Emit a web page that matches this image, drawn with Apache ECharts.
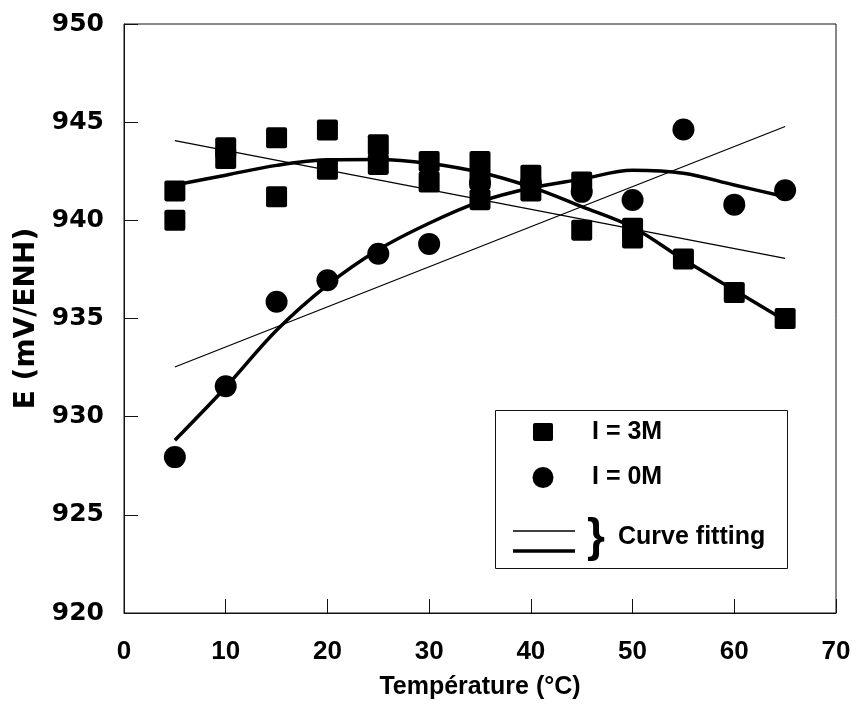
<!DOCTYPE html>
<html>
<head>
<meta charset="utf-8">
<title>E vs Température</title>
<script src="https://cdn.jsdelivr.net/npm/echarts@6/dist/echarts.min.js"></script>
<style>
  html, body { margin: 0; padding: 0; background: #fff; }
  #chart { width: 859px; height: 715px; }
</style>
</head>
<body>
<div id="chart"></div>
<script>
// Axis ranges and titles
const xRange = [0, 70, 10];
const yRange = [920, 950, 5];
const xTitle = 'Température (°C)';
const yTitle = 'E (mV/ENH)';

// Measured potentials, I = 3M  [T (°C), E (mV/ENH)]
const points3M = [
  [5, 941.5], [5, 940.0],
  [10, 943.7], [10, 943.15],
  [15, 944.2], [15, 941.2],
  [20, 944.6], [20, 942.6],
  [25, 943.85], [25, 942.85],
  [30, 943.0], [30, 941.95],
  [35, 943.0], [35, 942.1], [35, 941.05],
  [40, 942.3], [40, 941.5],
  [45, 941.95], [45, 939.5],
  [50, 939.6], [50, 939.1],
  [55, 938.03],
  [60, 936.32],
  [65, 935.0]
];

// Measured potentials, I = 0M
const points0M = [
  [5, 927.94], [10, 931.55], [15, 935.85], [20, 936.95], [25, 938.3],
  [30, 938.8], [35, 941.9], [40, 941.9], [45, 941.45], [50, 941.04],
  [55, 944.63], [60, 940.8], [65, 941.53]
];

// Fitted curves
const linear3M = [[5, 944.06], [65, 938.06]];
const linear0M = [[5, 932.53], [65, 944.78]];
const poly3M = [
  [5, 941.8], [10, 942.3], [15, 942.8], [20, 943.08], [25, 943.1],
  [30, 942.9], [35, 942.45], [40, 941.7], [45, 940.7], [50, 939.65],
  [55, 938.0], [60, 936.45], [65, 934.9]
];
const poly0M = [
  [5, 928.8], [10, 931.5], [15, 934.4], [20, 936.7], [25, 938.5],
  [30, 939.85], [35, 940.95], [40, 941.65], [45, 942.1], [50, 942.55],
  [55, 942.4], [60, 941.8], [65, 941.2]
];

// Legend texts
const legend3M = 'I = 3M';
const legend0M = 'I = 0M';
const legendFit = 'Curve fitting';

const ink = '#000';
const sansNarrow = '"Liberation Sans", Arial, sans-serif';
const sansWide = '"DejaVu Sans", sans-serif';

const chart = echarts.init(document.getElementById('chart'), null, { renderer: 'canvas' });

const thin = { color: ink, width: 1.3 };
const thick = { color: ink, width: 3.5 };

chart.setOption({
  backgroundColor: '#fff',
  animation: false,
  grid: {
    left: 124, right: 23, top: 24, bottom: 102,
    show: true, borderColor: '#111', borderWidth: 1
  },
  xAxis: {
    type: 'value',
    min: xRange[0], max: xRange[1], interval: xRange[2],
    axisLine: { show: true, lineStyle: { color: '#111', width: 1 } },
    axisTick: { show: true, inside: true, length: 14, lineStyle: { color: '#111', width: 1 } },
    splitLine: { show: false },
    axisLabel: {
      color: ink, fontFamily: sansNarrow, fontWeight: 'bold', fontSize: 26, margin: 26
    },
    name: xTitle,
    nameLocation: 'middle',
    nameGap: 62,
    nameTextStyle: { color: ink, fontFamily: sansNarrow, fontWeight: 'bold', fontSize: 25 }
  },
  yAxis: {
    type: 'value',
    min: yRange[0], max: yRange[1], interval: yRange[2],
    axisLine: { show: true, lineStyle: { color: '#111', width: 1 } },
    axisTick: { show: true, inside: true, length: 14, lineStyle: { color: '#111', width: 1 } },
    splitLine: { show: false },
    axisLabel: {
      color: ink, fontFamily: sansWide, fontWeight: 'bold', fontSize: 25, margin: 20
    },
    name: yTitle,
    nameLocation: 'middle',
    nameRotate: 90,
    nameGap: 81,
    nameTextStyle: { color: ink, fontFamily: sansWide, fontWeight: 'bold', fontSize: 28 }
  },
  series: [
    { type: 'line', data: linear3M, showSymbol: false, lineStyle: thin, z: 2 },
    { type: 'line', data: linear0M, showSymbol: false, lineStyle: thin, z: 2 },
    { type: 'line', data: poly3M, smooth: 0.35, showSymbol: false, lineStyle: thick, z: 3 },
    { type: 'line', data: poly0M, smooth: 0.35, showSymbol: false, lineStyle: thick, z: 3 },
    {
      name: legend0M, type: 'scatter', data: points0M,
      symbol: 'circle', symbolSize: 22, itemStyle: { color: ink, opacity: 1 }, z: 4
    },
    {
      name: legend3M, type: 'scatter', data: points3M,
      symbol: 'path://M2,0 L18,0 Q20,0 20,2 L20,18 Q20,20 18,20 L2,20 Q0,20 0,18 L0,2 Q0,0 2,0 Z',
      symbolSize: 21, itemStyle: { color: ink, opacity: 1 }, z: 5
    }
  ],
  graphic: [
    {
      type: 'rect', shape: { x: 495.5, y: 410.5, width: 292, height: 158 },
      style: { fill: '#fff', stroke: '#111', lineWidth: 1 }, z: 10
    },
    {
      type: 'rect', shape: { x: 533, y: 423, width: 20, height: 18, r: 2 },
      style: { fill: ink }, z: 11
    },
    {
      type: 'circle', shape: { cx: 543, cy: 477.5, r: 10.5 },
      style: { fill: ink }, z: 11
    },
    {
      type: 'text', x: 592, y: 432, z: 11,
      style: { text: legend3M, fill: ink, font: 'bold 25px ' + sansNarrow, verticalAlign: 'middle' }
    },
    {
      type: 'text', x: 592, y: 477, z: 11,
      style: { text: legend0M, fill: ink, font: 'bold 25px ' + sansNarrow, verticalAlign: 'middle' }
    },
    {
      type: 'line', shape: { x1: 513, y1: 531, x2: 575, y2: 531 },
      style: { stroke: ink, lineWidth: 1.3 }, z: 11
    },
    {
      type: 'line', shape: { x1: 513, y1: 551, x2: 575, y2: 551 },
      style: { stroke: ink, lineWidth: 3.5 }, z: 11
    },
    {
      type: 'text', x: 596, y: 538, z: 11,
      style: { text: '}', fill: ink, font: 'bold 46px ' + sansNarrow, align: 'center', verticalAlign: 'middle' }
    },
    {
      type: 'text', x: 618, y: 537, z: 11,
      style: { text: legendFit, fill: ink, font: 'bold 25px ' + sansNarrow, verticalAlign: 'middle' }
    }
  ]
});
</script>
</body>
</html>
